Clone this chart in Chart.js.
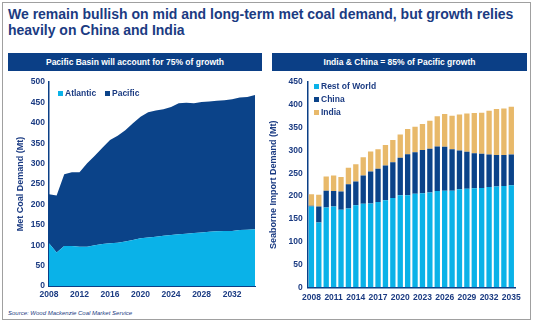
<!DOCTYPE html>
<html>
<head>
<meta charset="utf-8">
<script src="https://cdn.jsdelivr.net/npm/chart.js@4/dist/chart.umd.min.js"></script>
<style>
  body { margin: 0; background: #fff; font-family: Arial, "Liberation Sans", sans-serif; }
  #frame { position: absolute; left: 2px; top: 2px; width: 527px; height: 316px; border: 1px solid #a0a0a0; }
  #title { position: absolute; left: 8px; top: 6px; width: 520px; font-size: 14px; line-height: 16px; font-weight: bold; color: #1b3b82; }
  .bar { position: absolute; top: 53px; height: 18px; background: #0b3f86; color: #fff; font-size: 8.5px; font-weight: bold; text-align: center; line-height: 18px; }
  .cv { position: absolute; }
  .leg { position: absolute; font-size: 8.5px; font-weight: bold; color: #1b3b82; white-space: nowrap; }
  .sw { display: inline-block; width: 5px; height: 5px; margin-right: 2px; }
  #source { position: absolute; left: 8px; top: 310px; font-size: 6px; font-style: italic; color: #1b3b82; }
</style>
</head>
<body>
<div id="frame"></div>
<div id="title">We remain bullish on mid and long-term met coal demand, but growth relies heavily on China and India</div>
<div class="bar" style="left:8px;width:254px;">Pacific Basin will account for 75% of growth</div>
<div class="bar" style="left:272px;width:255px;">India &amp; China = 85% of Pacific growth</div>

<canvas id="areaChart" class="cv" style="left:8px;top:72px;" width="254" height="228"></canvas>
<canvas id="barChart" class="cv" style="left:265px;top:72px;" width="262" height="228"></canvas>

<div class="leg" style="left:58px;top:88px;"><span class="sw" style="background:#0ab2e8"></span>Atlantic</div>
<div class="leg" style="left:105px;top:88px;"><span class="sw" style="background:#0b4389"></span>Pacific</div>

<div class="leg" style="left:314px;top:81px;"><span class="sw" style="background:#0ab2e8"></span>Rest of World</div>
<div class="leg" style="left:314px;top:94px;"><span class="sw" style="background:#0b4389"></span>China</div>
<div class="leg" style="left:314px;top:107px;"><span class="sw" style="background:#e8b96a"></span>India</div>

<div id="source">Source: Wood Mackenzie Coal Market Service</div>

<script>
const years = [2008, 2009, 2010, 2011, 2012, 2013, 2014, 2015, 2016, 2017, 2018, 2019, 2020, 2021,
               2022, 2023, 2024, 2025, 2026, 2027, 2028, 2029, 2030, 2031, 2032, 2033, 2034, 2035];

// left chart: met coal demand (Mt)
const atlantic = [105, 82, 98, 98, 96, 96, 100, 103, 105, 106, 109, 113, 117, 119,
                  121, 123, 125, 127, 128, 130, 131, 133, 134, 135, 135, 137, 138, 139];
const pacific = [120, 140, 176, 181, 183, 205, 219, 236, 253, 262, 273, 286, 298, 307,
                 309, 310, 314, 321, 321, 318, 320, 319, 320, 320, 323, 325, 325, 329];

// right chart: seaborne import demand (Mt)
const restOfWorld = [177, 142, 175, 177, 170, 173, 180, 183, 184, 187, 191, 196, 202, 202,
                     205, 206, 208, 211, 212, 212, 215, 216, 217, 218, 220, 221, 222, 224];
const china = [2, 35, 37, 34, 40, 53, 52, 62, 70, 73, 76, 78, 82, 90,
               91, 95, 96, 98, 96, 91, 85, 81, 77, 75, 71, 69, 68, 67];
const india = [25, 26, 31, 34, 32, 36, 38, 40, 44, 43, 45, 49, 51, 55,
               56, 57, 61, 66, 72, 73, 79, 84, 88, 90, 96, 101, 102, 105];

const navy = '#1b3b82';
const tickFont = { family: 'Arial, "Liberation Sans", sans-serif', size: 8.5, weight: 'bold' };
const titleFont = { family: 'Arial, "Liberation Sans", sans-serif', size: 9, weight: 'bold', lineHeight: 1.2 };

new Chart(document.getElementById('areaChart'), {
    type: 'line',
    data: {
        labels: years,
        datasets: [{
            label: 'Atlantic',
            data: atlantic,
            backgroundColor: '#0ab2e8',
            borderWidth: 0,
            pointRadius: 0,
            fill: 'origin'
        }, {
            label: 'Pacific',
            data: pacific,
            backgroundColor: '#0b4389',
            borderWidth: 0,
            pointRadius: 0,
            fill: '-1'
        }]
    },
    options: {
        responsive: false,
        animation: false,
        layout: { padding: { top: 10, right: 7, left: 0, bottom: 0 } },
        plugins: { legend: { display: false }, tooltip: { enabled: false } },
        scales: {
            x: {
                offset: false,
                grid: { display: false, drawTicks: false },
                border: { color: '#0b3f86', width: 1 },
                ticks: {
                    autoSkip: false, maxRotation: 0, color: navy, font: tickFont, padding: 4,
                    callback: (v, i) => i % 4 === 0 ? years[i] : ''
                },
                afterFit: s => { s.height = 14; }
            },
            y: {
                stacked: true,
                min: 0, max: 500,
                grid: { display: false, drawTicks: false },
                border: { color: '#0b3f86', width: 1.5 },
                ticks: { stepSize: 50, color: navy, font: tickFont, padding: 4 },
                title: { display: true, text: 'Met Coal Demand (Mt)', color: navy, font: titleFont, padding: { top: 7, bottom: 0 } },
                afterFit: s => { s.width = 41; }
            }
        }
    }
});

new Chart(document.getElementById('barChart'), {
    type: 'bar',
    data: {
        labels: years,
        datasets: [{
            label: 'Rest of World',
            data: restOfWorld,
            backgroundColor: '#0ab2e8'
        }, {
            label: 'China',
            data: china,
            backgroundColor: '#0b4389'
        }, {
            label: 'India',
            data: india,
            backgroundColor: '#e8b96a'
        }]
    },
    options: {
        responsive: false,
        animation: false,
        layout: { padding: { top: 10, right: 12, left: 0, bottom: 0 } },
        plugins: { legend: { display: false }, tooltip: { enabled: false } },
        datasets: { bar: { barPercentage: 0.72, categoryPercentage: 1 } },
        scales: {
            x: {
                stacked: true,
                grid: { display: false, drawTicks: false },
                border: { color: '#0b3f86', width: 1.5 },
                ticks: {
                    autoSkip: false, maxRotation: 0, color: navy, font: tickFont, padding: 5,
                    callback: (v, i) => i % 3 === 0 ? years[i] : ''
                },
                afterFit: s => { s.height = 12.7; }
            },
            y: {
                stacked: true,
                min: 0, max: 450,
                grid: { display: false, drawTicks: false },
                border: { color: '#0b3f86', width: 1.5 },
                ticks: { stepSize: 50, color: navy, font: tickFont, padding: 5 },
                title: { display: true, text: 'Seaborne Import Demand (Mt)', color: navy, font: titleFont, padding: { top: 3, bottom: 0 } },
                afterFit: s => { s.width = 42.7; }
            }
        }
    }
});
</script>
</body>
</html>
